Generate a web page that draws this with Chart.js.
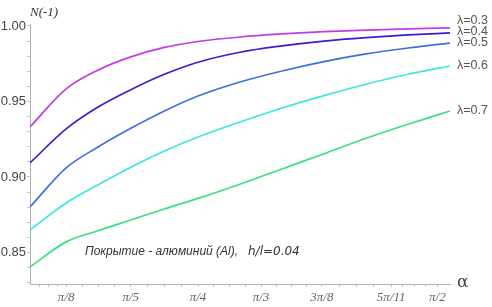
<!DOCTYPE html>
<html>
<head>
<meta charset="utf-8">
<script src="https://cdn.jsdelivr.net/npm/chart.js@4.4.1/dist/chart.umd.min.js"></script>
<style>
  html, body { margin: 0; padding: 0; background: #fff; }
  #wrap { width: 492px; height: 307px; }
</style>
</head>
<body>
<div id="wrap"><canvas id="chart"></canvas></div>
<script>
// x positions along the alpha axis (axis units 0..100)
const xPos = [0, 8.6, 16, 24, 32, 40, 50, 60, 70, 80, 90, 100];

const seriesNames = ['λ=0.3', 'λ=0.4', 'λ=0.5', 'λ=0.6', 'λ=0.7'];
const n03 = [0.9331, 0.9583, 0.9705, 0.9795, 0.9858, 0.9897, 0.9927, 0.9947, 0.9962, 0.9973, 0.9981, 0.9987];
const n04 = [0.9093, 0.9318, 0.9460, 0.9578, 0.9680, 0.9760, 0.9826, 0.9868, 0.9900, 0.9923, 0.9941, 0.9954];
const n05 = [0.8801, 0.9060, 0.9195, 0.9322, 0.9437, 0.9536, 0.9629, 0.9702, 0.9764, 0.9815, 0.9854, 0.9887];
const n06 = [0.8649, 0.8828, 0.8945, 0.9065, 0.9172, 0.9265, 0.9364, 0.9457, 0.9539, 0.9614, 0.9680, 0.9735];
const n07 = [0.8404, 0.8570, 0.8642, 0.8715, 0.8788, 0.8858, 0.8952, 0.9053, 0.9154, 0.9256, 0.9349, 0.9437];

const xTickLabels = ['π/8', 'π/5', 'π/4', 'π/3', '3π/8', '5π/11', 'π/2'];
const xTickValues = [8.6, 24, 40, 55, 69.5, 86, 97];
const yTickValues = [0.85, 0.90, 0.95, 1.00];

const colors = ['#c23be6', '#3a1fcc', '#3f6fe0', '#3fe6e0', '#3ddf7f'];
const allSeries = [n03, n04, n05, n06, n07];

const datasets = allSeries.map((vals, i) => ({
    label: seriesNames[i],
    data: xPos.map((x, j) => ({ x: x, y: vals[j] })),
    borderColor: colors[i],
    borderWidth: 1.7,
    pointRadius: 0,
    cubicInterpolationMode: 'monotone',
    fill: false
}));

// minor ticks between the labelled ones
function xTicksWithMinor() {
    const out = [];
    for (let i = 0; i < xTickValues.length; i++) {
        out.push({ value: xTickValues[i], major: true });
        const next = i + 1 < xTickValues.length ? xTickValues[i + 1] : null;
        if (next !== null) {
            for (let k = 1; k < 4; k++) out.push({ value: xTickValues[i] + (next - xTickValues[i]) * k / 4 });
        }
    }
    for (let k = 1; k < 4; k++) out.unshift({ value: xTickValues[0] * k / 4 });
    return out.sort((a, b) => a.value - b.value);
}

function yTicksWithMinor() {
    const out = [];
    for (let v = 83; v <= 100; v++) out.push({ value: v / 100 });
    return out;
}

const textPlugin = {
    id: 'texts',
    afterDraw(chart) {
        const { ctx, chartArea, scales } = chart;
        ctx.save();
        ctx.textBaseline = 'middle';
        ctx.textAlign = 'left';

        ctx.fillStyle = '#333';
        ctx.font = 'italic 13px "Liberation Serif"';
        ctx.fillText('N(-1)', chartArea.left, 13);

        ctx.font = '17px "DejaVu Serif"';
        ctx.fillStyle = '#444';
        ctx.fillText('α', chartArea.right + 7, chartArea.bottom - 1);

        // series labels at the right end of each line
        ctx.font = '12.5px "Liberation Sans"';
        ctx.fillStyle = '#555';
        let prevY = Infinity;
        for (let i = allSeries.length - 1; i >= 0; i--) {
            const vals = allSeries[i];
            let y = scales.y.getPixelForValue(vals[vals.length - 1]);
            y = Math.min(y, prevY - 11);
            ctx.fillText(seriesNames[i], chartArea.right + 7, y);
            prevY = y;
        }

        ctx.fillStyle = '#333';
        ctx.font = 'italic 12px "Liberation Sans"';
        ctx.fillText('Покрытие - алюминий (Al),', 85, 252);
        ctx.font = 'italic 12px "DejaVu Sans"';
        ctx.fillText('h/l=0.04', 248, 252);
        ctx.restore();
    }
};

const ctx = document.getElementById('chart').getContext('2d');
new Chart(ctx, {
    type: 'line',
    data: { datasets: datasets },
    options: {
        responsive: true,
        maintainAspectRatio: false,
        animation: false,
        events: [],
        layout: { padding: { left: 0, right: 42, top: 24, bottom: 0 } },
        plugins: { legend: { display: false }, tooltip: { enabled: false } },
        scales: {
            x: {
                type: 'linear',
                min: 0,
                max: 100,
                afterBuildTicks: (scale) => { scale.ticks = xTicksWithMinor(); },
                afterFit: (scale) => { scale.height = 23; },
                border: { display: true, color: '#b0b0b0', width: 1 },
                grid: { display: true, drawOnChartArea: false, drawTicks: true, tickLength: 3, color: '#c8c8c8' },
                ticks: {
                    autoSkip: false,
                    maxRotation: 0,
                    padding: 3,
                    color: '#666',
                    font: { family: '"Liberation Serif"', style: 'italic', size: 13 },
                    callback: (value) => {
                        const idx = xTickValues.findIndex(v => Math.abs(v - value) < 1e-6);
                        return idx >= 0 ? xTickLabels[idx] : '';
                    }
                }
            },
            y: {
                type: 'linear',
                min: 0.8291,
                max: 1.0013,
                afterBuildTicks: (scale) => { scale.ticks = yTicksWithMinor(); },
                afterFit: (scale) => { scale.width = 30; },
                border: { display: true, color: '#b0b0b0', width: 1 },
                grid: { display: true, drawOnChartArea: false, drawTicks: true, tickLength: 3, color: '#c8c8c8' },
                ticks: {
                    autoSkip: false,
                    padding: 1,
                    color: '#444',
                    font: { family: '"Liberation Sans"', size: 13 },
                    callback: (value) => {
                        const hit = yTickValues.some(v => Math.abs(v - value) < 1e-6);
                        return hit ? value.toFixed(2) : '';
                    }
                }
            }
        }
    },
    plugins: [textPlugin]
});
</script>
</body>
</html>
